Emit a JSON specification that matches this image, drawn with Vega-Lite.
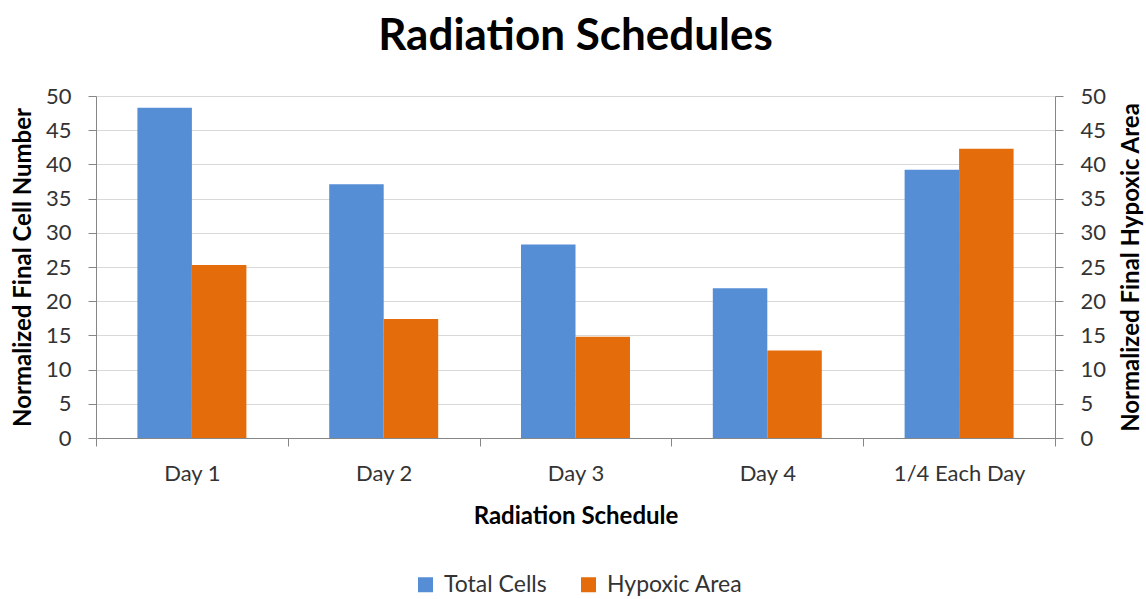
{
  "$schema": "https://vega.github.io/schema/vega-lite/v6.json",
  "width": 959,
  "height": 342,
  "autosize": "none",
  "padding": {"left": 96, "top": 96, "right": 91, "bottom": 161},
  "config": {
    "font": "Lato",
    "view": {"stroke": null},
    "axis": {
      "labelFont": "Lato",
      "titleFont": "Lato",
      "labelFontSize": 22,
      "titleFontSize": 24,
      "titleFontWeight": "bold",
      "titleColor": "#000000",
      "labelColor": "#333333",
      "domainColor": "#868686",
      "tickColor": "#868686",
      "tickSize": 8,
      "gridColor": "#d9d9d9"
    }
  },
  "title": {
    "text": "Radiation Schedules",
    "font": "Lato",
    "fontSize": 44,
    "fontWeight": "bold",
    "color": "#000000",
    "anchor": "middle",
    "baseline": "alphabetic",
    "offset": -9
  },
  "data": {
    "values": [
      {"schedule": "Day 1", "series": "Total Cells", "value": 48.3},
      {"schedule": "Day 1", "series": "Hypoxic Area", "value": 25.3},
      {"schedule": "Day 2", "series": "Total Cells", "value": 37.1},
      {"schedule": "Day 2", "series": "Hypoxic Area", "value": 17.4},
      {"schedule": "Day 3", "series": "Total Cells", "value": 28.3},
      {"schedule": "Day 3", "series": "Hypoxic Area", "value": 14.8},
      {"schedule": "Day 4", "series": "Total Cells", "value": 21.9},
      {"schedule": "Day 4", "series": "Hypoxic Area", "value": 12.8},
      {"schedule": "1/4 Each Day", "series": "Total Cells", "value": 39.2},
      {"schedule": "1/4 Each Day", "series": "Hypoxic Area", "value": 42.3}
    ]
  },
  "encoding": {
    "x": {
      "field": "schedule",
      "type": "nominal",
      "sort": ["Day 1", "Day 2", "Day 3", "Day 4", "1/4 Each Day"],
      "scale": {"paddingInner": 0, "paddingOuter": 0},
      "axis": {
        "title": "Radiation Schedule",
        "labelAngle": 0,
        "tickBand": "extent",
        "labelPadding": 17,
        "titlePadding": 20
      }
    },
    "xOffset": {
      "field": "series",
      "type": "nominal",
      "sort": ["Total Cells", "Hypoxic Area"],
      "scale": {"paddingInner": 0, "paddingOuter": 0.76}
    },
    "color": {
      "field": "series",
      "type": "nominal",
      "sort": ["Total Cells", "Hypoxic Area"],
      "scale": {"domain": ["Total Cells", "Hypoxic Area"], "range": ["#558ED5", "#E46C0A"]},
      "legend": {
        "title": null,
        "orient": "none",
        "direction": "horizontal",
        "legendX": 318,
        "legendY": 477,
        "symbolType": "square",
        "symbolSize": 225,
        "symbolStrokeWidth": 0,
        "labelFontSize": 23,
        "labelFont": "Lato",
        "labelColor": "#333333",
        "labelOffset": 7,
        "columnPadding": 30
      }
    }
  },
  "layer": [
    {
      "transform": [{"filter": "datum.series === 'Total Cells'"}],
      "mark": {"type": "bar"},
      "encoding": {
        "y": {
          "field": "value",
          "type": "quantitative",
          "scale": {"domain": [0, 50]},
          "axis": {
            "orient": "left",
            "title": "Normalized Final Cell Number",
            "values": [0, 5, 10, 15, 20, 25, 30, 35, 40, 45, 50],
            "labelPadding": 17,
            "titlePadding": 10,
            "grid": true
          }
        }
      }
    },
    {
      "transform": [{"filter": "datum.series === 'Hypoxic Area'"}],
      "mark": {"type": "bar"},
      "encoding": {
        "y": {
          "field": "value",
          "type": "quantitative",
          "scale": {"domain": [0, 50]},
          "axis": {
            "orient": "right",
            "title": "Normalized Final Hypoxic Area",
            "titleAngle": 270,
            "titleBaseline": "top",
            "values": [0, 5, 10, 15, 20, 25, 30, 35, 40, 45, 50],
            "labelPadding": 17,
            "titlePadding": 14,
            "grid": false
          }
        }
      }
    }
  ],
  "resolve": {"scale": {"y": "independent"}}
}
